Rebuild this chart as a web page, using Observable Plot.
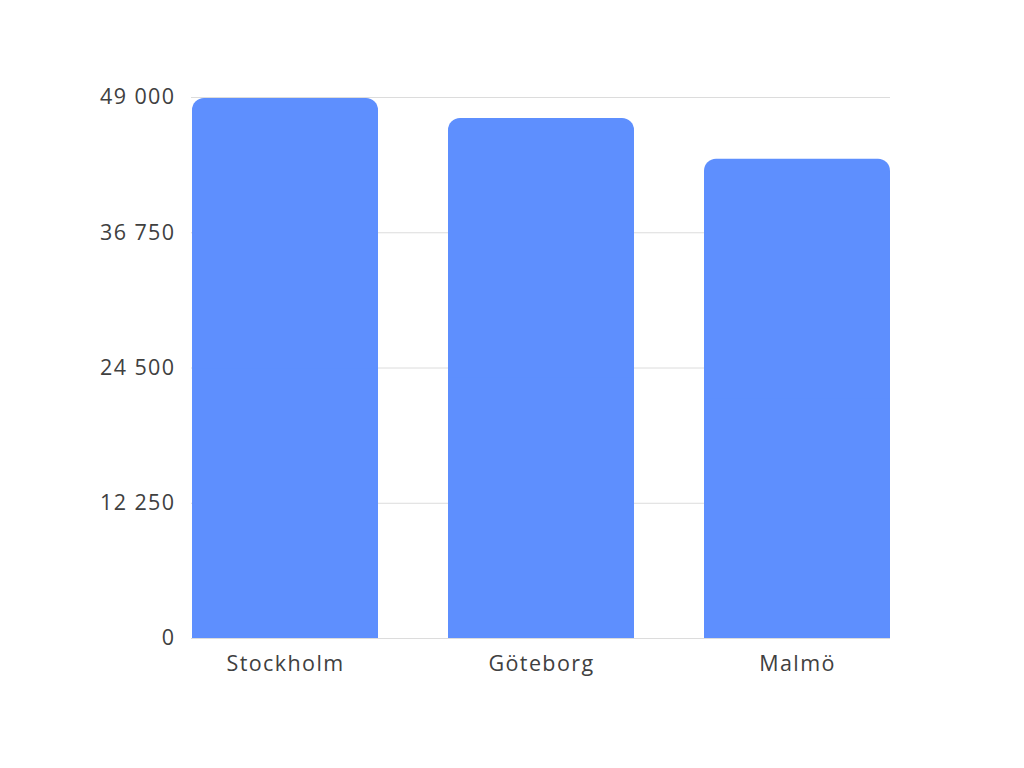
<!DOCTYPE html>
<html>
<head>
<meta charset="utf-8">
<script src="https://cdn.jsdelivr.net/npm/d3@7"></script>
<script src="https://cdn.jsdelivr.net/npm/@observablehq/plot@0.6"></script>
<style>
  html, body { margin: 0; padding: 0; background: #fff; }
  svg { font-family: "Open Sans", sans-serif; }
  svg text { letter-spacing: 1.4px; }
</style>
</head>
<body>
<div id="chart"></div>
<script>
const cities = ["Stockholm", "Göteborg", "Malmö"];
const values = [48900, 47100, 43400];
const yTicks = [0, 12250, 24500, 36750, 49000];

const data = cities.map((c, i) => ({city: c, value: values[i]}));
const fmt = d3.formatLocale({decimal: ",", thousands: " ", grouping: [3], currency: ["", ""]}).format(",");

const chart = Plot.plot({
  width: 1024,
  height: 768,
  marginTop: 97,
  marginBottom: 130,
  marginLeft: 191,
  marginRight: 134,
  style: {fontSize: "21.5px", color: "#404040", fontFamily: "Open Sans, sans-serif"},
  x: {domain: cities, paddingInner: 0.275, paddingOuter: 0, label: null, tickSize: 0, tickPadding: 17},
  y: {domain: [0, 49000], ticks: yTicks, tickFormat: fmt, label: null, tickSize: 0, tickPadding: 16},
  marks: [
    Plot.ruleY(yTicks, {stroke: "#dcdcdc", strokeWidth: 1, strokeOpacity: 1}),
    Plot.barY(data, {x: "city", y: "value", fill: "#5e8ffe", rx: 12}),
    Plot.barY(data, {x: "city", y1: 0, y2: d => d.value / 2, fill: "#5e8ffe"})
  ]
});
document.getElementById("chart").appendChild(chart);
</script>
</body>
</html>
